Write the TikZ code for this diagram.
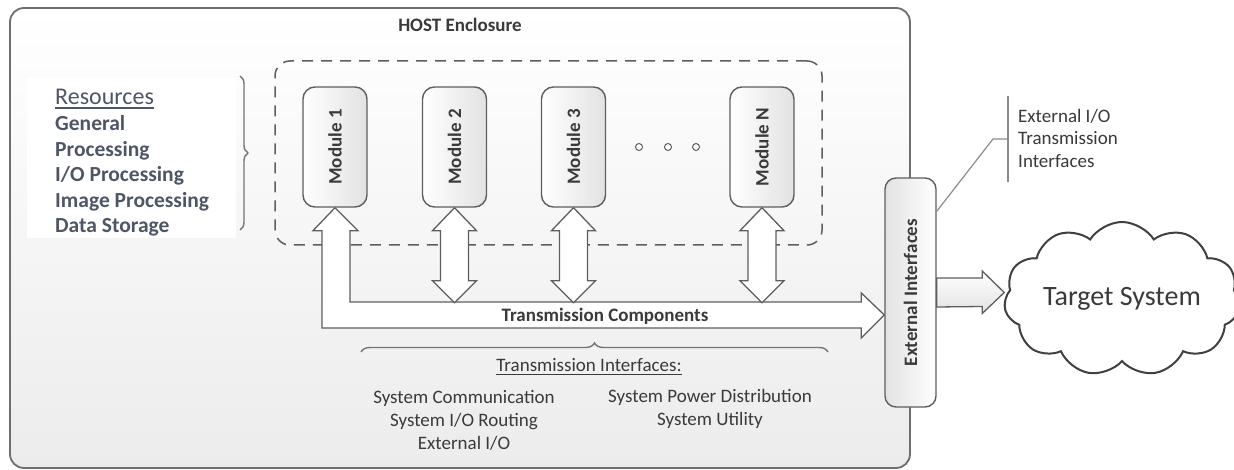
\documentclass[tikz,border=0pt]{standalone}
\usepackage{fontspec}
\setmainfont{Carlito}
\usetikzlibrary{shapes.symbols,decorations.pathreplacing,calc}

\definecolor{edge}{HTML}{5E5E5E}
\definecolor{encedge}{HTML}{6E6E6E}
\definecolor{ink}{HTML}{3A3A3A}
\definecolor{slate}{HTML}{4E5666}
\definecolor{encbot}{HTML}{ECECEC}
\definecolor{boxshade}{HTML}{E2E2E2}
\definecolor{leader}{HTML}{8C8C8C}
\definecolor{bracegray}{HTML}{747474}
\definecolor{cloudedge}{HTML}{404040}

\newcommand{\fsz}[2]{\fontsize{#1}{#2}\selectfont}

\begin{document}
\begin{tikzpicture}[x=1pt,y=-1pt,
  every node/.style={text=ink, inner sep=0pt},
  enclosure/.style={draw=encedge, line width=1.8pt, rounded corners=14pt,
    top color=white, bottom color=encbot, minimum width=900pt, minimum height=460pt},
  group/.style={draw=edge, line width=1.5pt, rounded corners=15pt,
    dash pattern=on 11pt off 8pt, minimum width=547pt, minimum height=184pt},
  module/.style={draw=edge, line width=1.4pt, rounded corners=12pt,
    left color=white, right color=boxshade, minimum width=64pt, minimum height=120pt,
    font=\fsz{19}{23}\bfseries},
  extbox/.style={draw=edge, line width=1.4pt, rounded corners=11pt,
    left color=boxshade, right color=white, minimum width=51pt, minimum height=229pt,
    font=\fsz{19}{23}\bfseries},
  blockarrow/.style={draw=edge, line width=1.3pt, fill=white, line join=miter},
  sidearrow/.style={draw=edge, line width=1.3pt, top color=white, bottom color=boxshade},
  dot/.style={circle, draw=edge, line width=1pt, fill=white, minimum size=7pt},
  restext/.style={text=slate, anchor=base west, font=\fsz{21.5}{26}\bfseries},
  bracestyle/.style={draw=bracegray, line width=1.4pt, decorate},
  leaderline/.style={draw=leader, line width=1.2pt},
  body/.style={font=\fsz{19}{23}, align=center},
]
\clip (0,0) rectangle (1234,470);
\fill[white] (0,0) rectangle (1234,470);

% enclosure and its title
\node[enclosure] (host) at (460,238) {};
\node[font=\fsz{19}{23}\bfseries] (hosttitle) at (460,25) {HOST Enclosure};

% resources list
\fill[white] (27,78) rectangle (236,238);
\node[restext, font=\fsz{24}{28}] (res) at (55,105) {Resources};
\draw[slate, line width=1.2pt] ($(res.base west)+(0,3)$) -- ($(res.base east)+(0,3)$);
\node[restext] (r1) at (55,131) {General};
\node[restext] (r2) at (55,157) {Processing};
\node[restext] (r3) at (55,182) {I/O Processing};
\node[restext] (r4) at (55,208) {Image Processing};
\node[restext] (r5) at (55,233) {Data Storage};
\coordinate (rbTop) at (240,76);
\coordinate (rbBot) at (240,230);
\draw[bracestyle, decoration={brace, amplitude=8pt}] (rbTop) -- (rbBot);

% module group
\node[group] (grp) at (548.5,153) {};
\node[module] (m1) at (335,147) {\rotatebox{90}{Module 1}};
\node[module] (m2) at (454.5,147) {\rotatebox{90}{Module 2}};
\node[module] (m3) at (573.5,147) {\rotatebox{90}{Module 3}};
\node[module] (mN) at (762,147) {\rotatebox{90}{Module N}};
\node[dot] (d1) at (639,147) {};
\node[dot] (d2) at (668,147) {};
\node[dot] (d3) at (696,147) {};

% external interfaces
\node[extbox] (ext) at (910.5,292.5) {\rotatebox{90}{External Interfaces}};
\path (ext.west) ++(0,22.5) coordinate (bustip);

% transmission bus from module 1 to the external interfaces
\draw[blockarrow] (m1.south) -- ++(23,23) -- ++(-8,0) |- ($(bustip)+(-23,-13)$)
  -- ++(0,-9) -- (bustip) -- ++(-23,23) -- ++(0,-10) -| ($(m1.south)+(-13,23)$)
  -- ++(-9,0) -- cycle;
\node[font=\fsz{19}{23}\bfseries] (buslabel) at (605,316) {Transmission Components};

% module links onto the bus
\foreach \m in {m2,m3,mN}{
  \draw[blockarrow] (\m.south) -- ++(22,23) -- ++(-8,0) -- ++(0,50) -- ++(8,0)
    -- ++(-22,22) -- ++(-22,-22) -- ++(8,0) -- ++(0,-50) -- ++(-8,0) -- cycle;
}

% transmission interfaces
\coordinate (tbL) at (361,352);
\coordinate (tbR) at (828,352);
\draw[bracestyle, decoration={brace, amplitude=9pt}] (tbL) -- (tbR);
\node[font=\fsz{19}{23}] (tifc) at (589,365) {Transmission Interfaces:};
\draw[ink, line width=1.1pt] ($(tifc.base west)+(0,3)$) -- ($(tifc.base east)+(0,3)$);
\node[body] (col1) at (464,420) {System Communication\\System I/O Routing\\External I/O};
\node[body] (col2) at (710,408.5) {System Power Distribution\\System Utility};

% target system
\node[cloud, cloud puffs=11, cloud puff arc=115, cloud ignores aspect,
  draw=cloudedge, line width=2pt, fill=white, minimum width=236pt, minimum height=154pt,
  font=\fsz{28}{34}] (target) at (1122,299) {Target System};
\coordinate (tgtip) at (target.west |- ext.east);
\draw[sidearrow] ($(ext.east)+(0,-14.5)$) -- ($(tgtip)+(-22,-14.5)$) -- ++(0,-7)
  -- (tgtip) -- ++(-22,21) -- ++(0,-7) -- ($(ext.east)+(0,14.5)$) -- cycle;

% callout for the external I/O interfaces
\coordinate (barTop) at (1008,96);
\coordinate (barBot) at (1008,182);
\coordinate (knee) at (993,139);
\draw[leader, line width=1.8pt] (barTop) -- (barBot);
\draw[leaderline] ($(ext.north east)+(0,34)$) -- (knee) -- (knee -| barTop);
\node[anchor=west, align=left, font=\fsz{19}{22.5}] (calltext) at (1018,138)
  {External I/O\\Transmission\\Interfaces};
\end{tikzpicture}
\end{document}
